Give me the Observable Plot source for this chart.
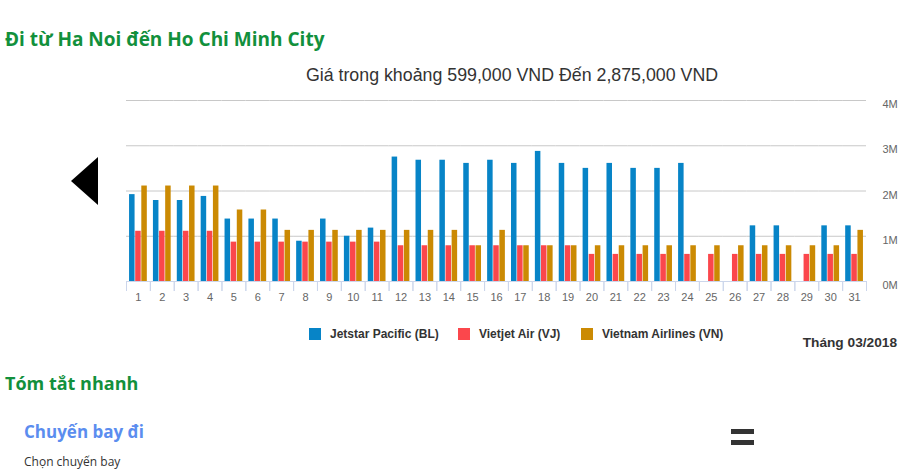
<!DOCTYPE html>
<html><head><meta charset="utf-8">
<script src="https://cdn.jsdelivr.net/npm/d3@7"></script>
<script src="https://cdn.jsdelivr.net/npm/@observablehq/plot@0.6"></script>
<style>
body{margin:0;width:900px;height:471px;position:relative;overflow:hidden;background:#fff;font-family:"Liberation Sans",Arial,sans-serif;}
.abs{position:absolute;white-space:nowrap}
#chart{position:absolute;left:0;top:90px}
</style></head><body>
<div class="abs" style="left:5px;top:26px;line-height:24px;font:700 19px 'Open Sans';color:#12903c">Đi từ Ha Noi đến Ho Chi Minh City</div>
<div class="abs" style="left:112px;width:800px;text-align:center;top:64px;line-height:22px;font-size:17.8px;color:#333">Giá trong khoảng 599,000 VND Đến 2,875,000 VND</div>
<div class="abs" style="left:71px;top:157px;width:0;height:0;border-top:24px solid transparent;border-bottom:24px solid transparent;border-right:27px solid #000"></div>
<div id="chart"></div>
<div id="legend"></div>
<div class="abs" style="right:3px;top:334px;line-height:18px;font-weight:700;font-size:13.7px;color:#333">Tháng 03/2018</div>
<div class="abs" style="left:5px;top:371px;line-height:24px;font:700 18px 'Open Sans';color:#12903c">Tóm tắt nhanh</div>
<div class="abs" style="left:24px;top:420px;line-height:24px;font:700 17px 'Open Sans';color:#5b8def">Chuyến bay đi</div>
<div class="abs" style="left:24px;top:453px;line-height:18px;font:400 12px 'Open Sans';color:#333">Chọn chuyến bay</div>
<div class="abs" style="left:731px;top:429px;width:23px;height:5px;background:#333"></div>
<div class="abs" style="left:731px;top:440px;width:23px;height:5px;background:#333"></div>
<script>
const days = d3.range(1, 32);
const airlines = ["Jetstar Pacific (BL)", "Vietjet Air (VJ)", "Vietnam Airlines (VN)"];
const colors = ["#0784c7", "#fb474c", "#cb8a03"];
const jetstar = [1920000, 1790000, 1790000, 1880000, 1380000, 1380000, 1380000, 890000, 1380000, 1000000,
  1180000, 2750000, 2680000, 2680000, 2610000, 2680000, 2610000, 2875000, 2610000, 2500000,
  2610000, 2500000, 2500000, 2610000, null, null, 1230000, 1230000, null, 1230000, 1230000];
const vietjet = [1110000, 1110000, 1110000, 1110000, 870000, 870000, 870000, 870000, 870000, 870000,
  870000, 790000, 790000, 790000, 790000, 790000, 790000, 790000, 790000, 599000,
  599000, 599000, 599000, 599000, 599000, 599000, 599000, 599000, 599000, 599000, 599000];
const vietnam = [2110000, 2110000, 2110000, 2110000, 1580000, 1580000, 1130000, 1130000, 1130000, 1130000,
  1130000, 1130000, 1130000, 1130000, 790000, 1130000, 790000, 790000, 790000, 790000,
  790000, 790000, 790000, 790000, 790000, 790000, 790000, 790000, 790000, 790000, 1130000];
const yTicks = [0, 1000000, 2000000, 3000000, 4000000];

const series = [jetstar, vietjet, vietnam];
const data = days.flatMap((d, i) => airlines.map((a, j) => ({day: d, airline: a, price: series[j][i]})))
  .filter(d => d.price != null);

const chart = Plot.plot({
  width: 900, height: 220,
  marginLeft: 126, marginRight: 34, marginTop: 10, marginBottom: 29,
  style: {fontFamily: "'Liberation Sans', Arial, sans-serif", background: "transparent"},
  fx: {domain: days, padding: 0, round: false},
  x: {domain: airlines, paddingInner: 0.1, paddingOuter: 0.5, round: false, axis: null},
  y: {domain: [0, 4000000]},
  color: {domain: airlines, range: colors},
  marks: [
    Plot.gridY(yTicks, {stroke: "#c8c8c8", strokeOpacity: 1}),
    Plot.barY(data, {fx: "day", x: "airline", y: "price", fill: "airline"}),
    Plot.ruleY([0], {stroke: "#ccd6eb"}),
    Plot.axisY(yTicks, {anchor: "right", tickSize: 0, tickPadding: 16, dy: 4,
      tickFormat: d => d / 1000000 + "M", fill: "#666", fontSize: 11, label: null}),
    Plot.axisFx({anchor: "bottom", tickSize: 0, tickPadding: 12, fill: "#666", fontSize: 11, label: null}),
    Plot.axisFx({anchor: "bottom", tickSize: 10, tickFormat: () => "", stroke: "#ccd6eb", dx: -740 / 62, label: null}),
    Plot.axisFx([31], {anchor: "bottom", tickSize: 10, tickFormat: () => "", stroke: "#ccd6eb", dx: 740 / 62, label: null})
  ]
});
document.getElementById("chart").appendChild(chart);

const legendPos = [309, 458, 581];
const legend = document.getElementById("legend");
airlines.forEach((a, j) => {
  const sw = document.createElement("div");
  sw.className = "abs";
  sw.style.cssText = `left:${legendPos[j]}px;top:328px;width:12px;height:12px;background:${colors[j]}`;
  legend.appendChild(sw);
  const t = document.createElement("div");
  t.className = "abs";
  t.style.cssText = `left:${legendPos[j] + 21}px;top:326px;line-height:16px;font-size:12px;font-weight:700;color:#333`;
  t.textContent = a;
  legend.appendChild(t);
});
</script>
</body></html>
